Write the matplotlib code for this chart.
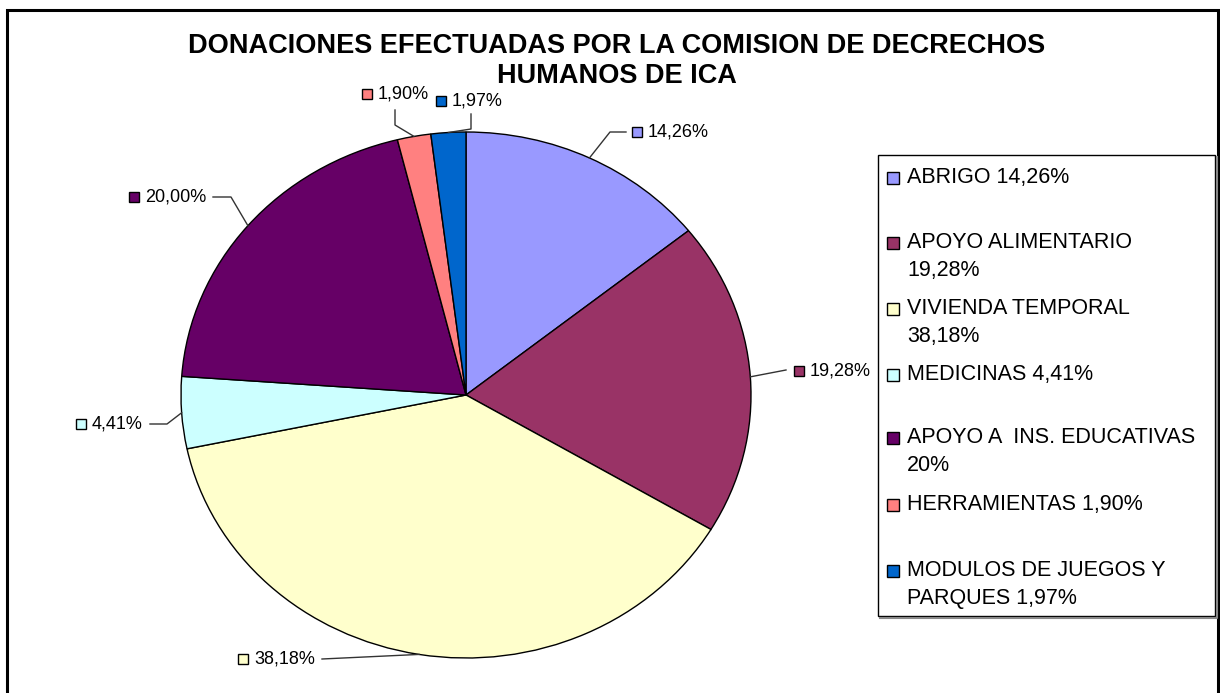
import matplotlib.pyplot as plt
from matplotlib.patches import Rectangle
import numpy as np

plt.rcParams['font.family'] = ['Liberation Sans', 'DejaVu Sans']

categories = ['ABRIGO', 'APOYO ALIMENTARIO', 'VIVIENDA TEMPORAL', 'MEDICINAS',
              'APOYO A  INS. EDUCATIVAS', 'HERRAMIENTAS', 'MODULOS DE JUEGOS Y PARQUES']
values = [14.26, 19.28, 38.18, 4.41, 20.00, 1.90, 1.97]
data_labels = ['14,26%', '19,28%', '38,18%', '4,41%', '20,00%', '1,90%', '1,97%']
legend_labels = ['ABRIGO 14,26%', 'APOYO ALIMENTARIO\n19,28%', 'VIVIENDA TEMPORAL\n38,18%',
                 'MEDICINAS 4,41%', 'APOYO A  INS. EDUCATIVAS\n20%', 'HERRAMIENTAS 1,90%',
                 'MODULOS DE JUEGOS Y\nPARQUES 1,97%']
title_lines = ['DONACIONES EFECTUADAS POR LA COMISION DE DECRECHOS', 'HUMANOS DE ICA']
colors = ['#9999FF', '#993366', '#FFFFCC', '#CCFFFF', '#660066', '#FF8080', '#0066CC']

W, H = 1220, 693
fig = plt.figure(figsize=(W / 100, H / 100), dpi=100)

# pie geometry (pixels)
cx, cy, rx, ry = 466, 395, 285, 263
ax = fig.add_axes([(cx - rx) / W, (H - cy - ry) / H, 2 * rx / W, 2 * ry / H])
wedges, _ = ax.pie(values, colors=colors, startangle=90, counterclock=False,
                   wedgeprops=dict(edgecolor='black', linewidth=1.0))
ax.set_aspect('auto')
ax.set_xlim(-1, 1)
ax.set_ylim(-1, 1)
ax.axis('off')

# overlay in pixel coords
ov = fig.add_axes([0, 0, 1, 1], zorder=5)
ov.set_xlim(0, W)
ov.set_ylim(H, 0)
ov.axis('off')
ov.patch.set_alpha(0)

# chart frame
ov.plot([7, 7, 1218, 1218], [H + 5, 10, 10, H + 5], color='black', lw=2.2, solid_joinstyle='miter')

for t, y in zip(title_lines, [46, 76]):
    ov.text(617, y, t, ha='center', va='center', fontsize=19.5, fontweight='bold')

# data labels: square pos, leader path start points
lab_pos = [(637, 132), (799, 371), (243, 659), (81, 424), (134, 197), (367, 94), (441, 101)]
leader = [[(626, 132), (610, 132)], [(786, 370)], [(322, 659)],
          [(150, 424), (167, 424)], [(213, 197), (231, 197)],
          [(395, 110), (395, 125)], [(471, 114), (471, 129)]]
for w, lbl, (sx, sy), path, c in zip(wedges, data_labels, lab_pos, leader, colors):
    mid = np.deg2rad((w.theta1 + w.theta2) / 2)
    ex, ey = cx + rx * np.cos(mid), cy - ry * np.sin(mid)
    pts = path + [(ex, ey)]
    ov.plot([p[0] for p in pts], [p[1] for p in pts], color='#333333', lw=1)
    ov.add_patch(Rectangle((sx - 5, sy - 5), 10, 10, facecolor=c, edgecolor='black', lw=1))
    ov.text(sx + 11, sy, lbl, ha='left', va='center', fontsize=13)

# legend box
ov.add_patch(Rectangle((878, 155), 1215 - 878, 616 - 155, facecolor='white',
                       edgecolor='black', lw=1))
ov.plot([880, 1217, 1217], [618, 618, 157], color='#888888', lw=1.5)
leg_y = [178, 243, 309, 375, 438, 505, 571]
for y, lbl, c in zip(leg_y, legend_labels, colors):
    ov.add_patch(Rectangle((887, y - 6), 12, 12, facecolor=c, edgecolor='black', lw=1))
    ov.text(907, y - 11, lbl, ha='left', va='top', fontsize=15.5, linespacing=1.45)

fig.savefig('out.png', dpi=100)
